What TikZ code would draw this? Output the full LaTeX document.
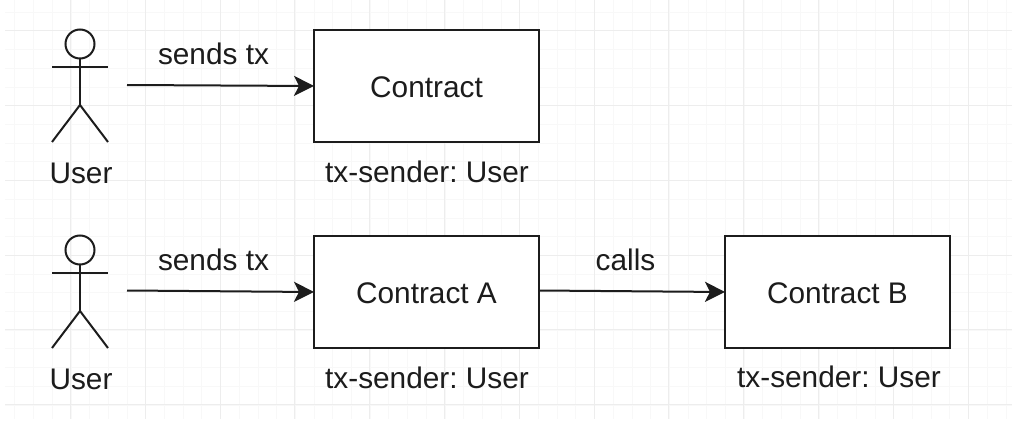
\documentclass[tikz,border=0pt]{standalone}
\usepackage{fontspec}
\setmainfont{Liberation Sans}
\usetikzlibrary{arrows.meta}
\definecolor{ink}{HTML}{1C1C1C}
\definecolor{gridminor}{HTML}{F8F8F8}
\definecolor{gridmajor}{HTML}{EDEDED}
\tikzset{
  boxnode/.style={draw=ink,line width=2pt,fill=white,minimum width=225pt,minimum height=112pt,inner sep=0pt,outer sep=0pt,text=ink,font=\fontsize{29.8}{32}\selectfont\frenchspacing},
  lbl/.style={text=ink,inner sep=0pt,font=\fontsize{29.8}{32}\selectfont\frenchspacing},
  headnode/.style={circle,draw=ink,line width=2pt,minimum size=29pt,inner sep=0pt,outer sep=0pt},
  limb/.style={draw=ink,line width=2pt},
  flow/.style={draw=ink,line width=2pt,-{Stealth[length=20pt,width=20pt,inset=5pt]}},
}
\begin{document}
\begin{tikzpicture}[x=1pt,y=-1pt]
\useasboundingbox (0,0) rectangle (1024,441);
\fill[white] (0,0) rectangle (1024,441);
% grid
\foreach \i in {0,...,53} {
  \pgfmathsetmacro{\gx}{14.9+18.7*\i}
  \draw[gridminor,line width=1pt] (\gx,0) -- (\gx,419);
}
\foreach \i in {0,...,21} {
  \pgfmathsetmacro{\gy}{12.3+18.7*\i}
  \draw[gridminor,line width=1pt] (5,\gy) -- (1012,\gy);
}
\foreach \i in {0,...,12} {
  \pgfmathsetmacro{\gx}{70.5+74.8*\i}
  \draw[gridmajor,line width=1pt] (\gx,0) -- (\gx,419);
}
\foreach \i in {0,...,5} {
  \pgfmathsetmacro{\gy}{31+74.7*\i}
  \draw[gridmajor,line width=1pt] (5,\gy) -- (1012,\gy);
}
% actors
\node[headnode] (h1) at (80,44) {};
\coordinate (armL1) at (52,67);
\coordinate (armR1) at (108,67);
\coordinate (hip1) at (80,105);
\coordinate (legL1) at (52,142);
\coordinate (legR1) at (108,142);
\draw[limb] (h1.south) -- (hip1);
\draw[limb] (armL1) -- (armR1);
\draw[limb] (legL1) -- (hip1) -- (legR1);
\node[lbl] (u1) at (81,173.5) {User};
\node[headnode] (h2) at (80,250) {};
\coordinate (armL2) at (52,273);
\coordinate (armR2) at (108,273);
\coordinate (hip2) at (80,311);
\coordinate (legL2) at (52,348);
\coordinate (legR2) at (108,348);
\draw[limb] (h2.south) -- (hip2);
\draw[limb] (armL2) -- (armR2);
\draw[limb] (legL2) -- (hip2) -- (legR2);
\node[lbl] (u2) at (81,379.5) {User};
% boxes
\node[boxnode] (c) at (426.5,86) {\raisebox{-1.5pt}[\height][\depth]{Contract}};
\node[boxnode] (ca) at (426.5,292) {\raisebox{-1pt}[\height][\depth]{Contract A}};
\node[boxnode] (cb) at (837.5,292) {\raisebox{-1pt}[\height][\depth]{Contract B}};
% connectors
\coordinate (s1) at (127,85);
\coordinate (s2) at (127,290.5);
\coordinate (s3) at (539,290.5);
\draw[flow] (s1) -- (c.west);
\draw[flow] (s2) -- (ca.west);
\draw[flow] (ca.east |- s3) -- (cb.west);
% labels
\node[lbl] (l1) at (213.5,54) {sends tx};
\node[lbl] (l2) at (213.5,260) {sends tx};
\node[lbl] (l3) at (625.5,260) {calls};
\node[lbl] (t1) at (427,172) {tx-sender: User};
\node[lbl] (t2) at (427,378) {tx-sender: User};
\node[lbl] (t3) at (839,377) {tx-sender: User};
\end{tikzpicture}
\end{document}
